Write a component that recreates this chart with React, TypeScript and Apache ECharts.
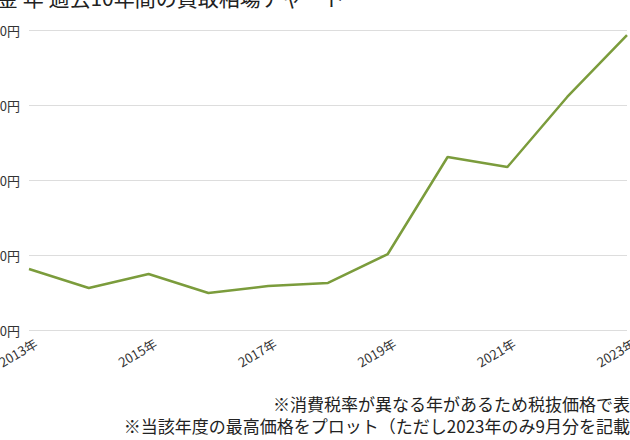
import React, { useEffect, useRef } from "react";
import * as echarts from "echarts";

const years = ["2013年", "2014年", "2015年", "2016年", "2017年", "2018年", "2019年", "2020年", "2021年", "2022年", "2023年"];
const prices = [4813, 4560, 4747, 4493, 4587, 4627, 5013, 6307, 6173, 7107, 7933];
const yMin = 4000;
const yMax = 8000;
const yStep = 1000;

const titleText = "金 年 過去10年間の買取相場チャート";
const notes = [
  "※消費税率が異なる年があるため税抜価格で表示",
  "※当該年度の最高価格をプロット（ただし2023年のみ9月分を記載）",
  "※グラフの価格は1gあたりの金の買取相場（税抜）です",
];

const FONT = '"Noto Sans CJK JP", "Noto Sans", sans-serif';

export default function App() {
  const ref = useRef<HTMLDivElement>(null);
  useEffect(() => {
    if (!ref.current) return;
    const chart = echarts.init(ref.current, undefined, { renderer: "svg" });
    chart.setOption({
      animation: false,
      backgroundColor: "#ffffff",
      textStyle: { fontFamily: FONT },
      grid: { left: 29, right: 3, top: 30, bottom: 110, containLabel: false, outerBoundsMode: "none" },
      xAxis: {
        type: "category",
        data: years,
        boundaryGap: false,
        axisLine: { show: false },
        axisTick: { show: false },
        axisLabel: {
          interval: 1,
          rotate: 30,
          margin: 16,
          padding: [0, -8, 0, 0],
          fontSize: 13,
          color: "#333333",
          fontFamily: FONT,
          hideOverlap: false,
        },
        splitLine: { show: false },
      },
      yAxis: {
        type: "value",
        min: yMin,
        max: yMax,
        interval: yStep,
        axisLine: { show: false },
        axisTick: { show: false },
        axisLabel: {
          margin: 9,
          fontSize: 13,
          color: "#333333",
          fontFamily: FONT,
          formatter: (v: number) => v.toLocaleString("en-US") + "円",
        },
        splitLine: { lineStyle: { color: "#dddddd", width: 1 } },
      },
      series: [
        {
          type: "line",
          data: prices,
          symbol: "none",
          lineStyle: { color: "#7b9c3c", width: 2.5 },
          itemStyle: { color: "#7b9c3c" },
        },
      ],
      graphic: [
        {
          type: "text",
          left: -3,
          top: -14,
          style: { text: titleText, font: `21px ${FONT}`, fill: "#222222" },
        },
        {
          type: "text",
          x: 647,
          y: 403,
          style: { text: notes[0], font: `17px ${FONT}`, fill: "#222222", align: "right", verticalAlign: "middle" },
        },
        {
          type: "text",
          x: 647,
          y: 425,
          style: { text: notes[1], font: `17px ${FONT}`, fill: "#222222", align: "right", verticalAlign: "middle" },
        },
        {
          type: "text",
          x: 647,
          y: 449,
          style: { text: notes[2], font: `17px ${FONT}`, fill: "#666666", align: "right", verticalAlign: "middle" },
        },
      ],
    });
    return () => chart.dispose();
  }, []);
  return (
    <div
      ref={ref}
      style={{ position: "fixed", left: 0, top: 0, width: 630, height: 440, background: "#fff" }}
    />
  );
}
